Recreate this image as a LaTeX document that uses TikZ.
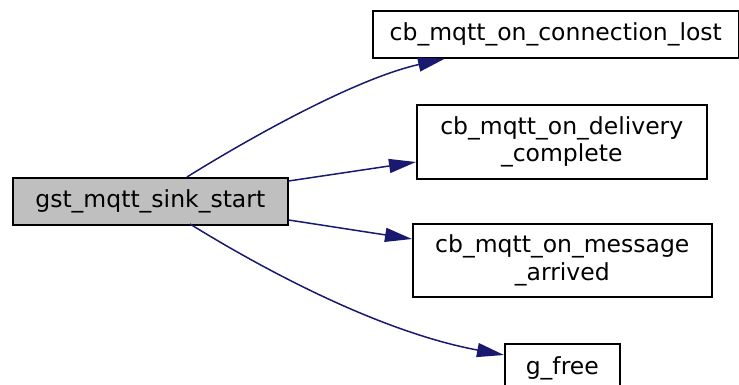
\documentclass[tikz,border=0pt]{standalone}
\usepackage{fontspec}
\setmainfont{DejaVu Sans}
\usetikzlibrary{arrows.meta}
\definecolor{edgeblue}{RGB}{25,25,112}
\definecolor{nodegray}{RGB}{191,191,191}
\begin{document}
\begin{tikzpicture}[x=1pt,y=-1pt,
  fn/.style={draw=black, line width=1.6pt, inner sep=0pt, anchor=north west, align=center,
    font=\fontsize{23.5pt}{27.5pt}\selectfont},
  call/.style={draw=edgeblue, line width=1.5pt, -{Triangle[length=27pt,width=14pt]}}]
\useasboundingbox (0,0) rectangle (739,385);
\node[fn, fill=nodegray, minimum width=275pt, minimum height=47pt] (start) at (12,177) {gst\_mqtt\_sink\_start};
\node[fn, fill=white, minimum width=366pt, minimum height=47pt] (lost) at (372,10) {cb\_mqtt\_on\_connection\_lost};
\node[fn, fill=white, minimum width=290pt, minimum height=74pt] (deliv) at (416,104) {cb\_mqtt\_on\_delivery\\\_complete};
\node[fn, fill=white, minimum width=299pt, minimum height=73pt] (msg) at (412,223) {cb\_mqtt\_on\_message\\\_arrived};
\node[fn, fill=white, minimum width=115pt, minimum height=50pt] (free) at (504,343) {g\_free};
\coordinate (s1) at (187,177);
\coordinate (s4) at (190,224);
\draw[call] (s1) .. controls (235,147) and (350,80) .. (lost.south west -| 445,57);
\draw[call] (start.east |- 0,181) -- (deliv.west |- 0,162);
\draw[call] (start.east |- 0,220) -- (msg.west |- 0,239);
\draw[call] (s4) .. controls (245,258) and (370,330) .. (free.west |- 0,355);
\end{tikzpicture}
\end{document}
